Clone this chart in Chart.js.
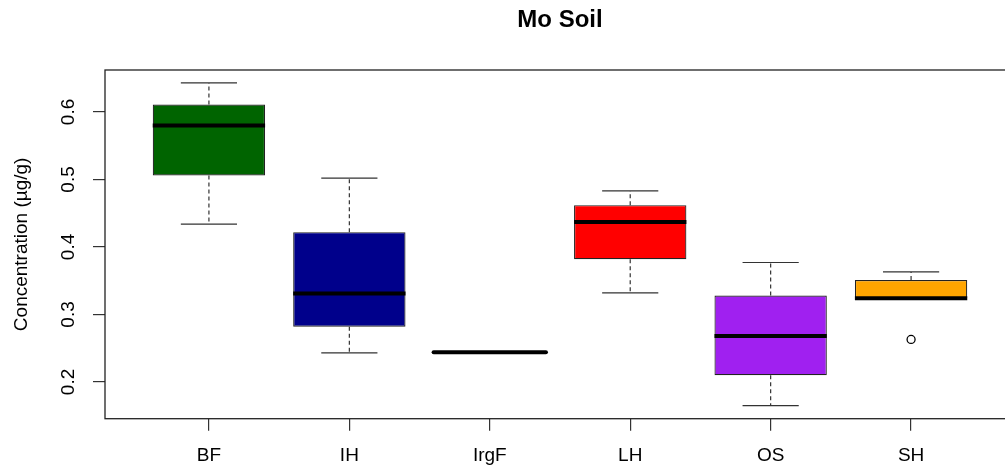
<!DOCTYPE html>
<html>
<head>
<meta charset="utf-8">
<script src="https://cdn.jsdelivr.net/npm/chart.js@4/dist/chart.umd.min.js"></script>
<style>
html,body{margin:0;padding:0;background:#fff;overflow:hidden;}
#wrap{width:1015px;height:470px;}
</style>
</head>
<body>
<div id="wrap"><canvas id="c" width="1015" height="470"></canvas></div>
<script>
const categories = ['BF', 'IH', 'IrgF', 'LH', 'OS', 'SH'];
const whiskerLow  = [0.434, 0.243, 0.244, 0.332, 0.165, 0.324];
const q1          = [0.506, 0.282, 0.244, 0.382, 0.210, 0.324];
const median      = [0.580, 0.331, 0.244, 0.437, 0.268, 0.324];
const q3          = [0.611, 0.422, 0.244, 0.462, 0.328, 0.351];
const whiskerHigh = [0.643, 0.502, 0.244, 0.483, 0.377, 0.363];
const outlierCat  = [6];
const outlierVal  = [0.263];
const yTicks      = [0.2, 0.3, 0.4, 0.5, 0.6];
const colors = ['#006400', '#00008B', '#BEBEBE', '#FF0000', '#A020F0', '#FFA500'];

const FONT = '"Liberation Sans", Arial, sans-serif';

const boxData = categories.map((c, i) => ({ x: i + 1, y: [q1[i], q3[i]] }));
const outData = outlierCat.map((c, i) => ({ x: c, y: outlierVal[i] }));

const boxPlugin = {
  id: 'boxExtras',
  afterDatasetsDraw(chart) {
    const ctx = chart.ctx;
    const ys = chart.scales.y;
    const meta = chart.getDatasetMeta(0);
    ctx.save();
    meta.data.forEach((bar, i) => {
      const x = bar.x;
      const w = bar.width;
      const pLo = ys.getPixelForValue(whiskerLow[i]);
      const pQ1 = ys.getPixelForValue(q1[i]);
      const pQ3 = ys.getPixelForValue(q3[i]);
      const pHi = ys.getPixelForValue(whiskerHigh[i]);
      const pMed = ys.getPixelForValue(median[i]);
      ctx.strokeStyle = '#333';
      ctx.lineWidth = 1.2;
      ctx.setLineDash([4, 3]);
      ctx.beginPath();
      if (pHi < pQ3 - 0.5) { ctx.moveTo(x, pQ3); ctx.lineTo(x, pHi); }
      if (pLo > pQ1 + 0.5) { ctx.moveTo(x, pQ1); ctx.lineTo(x, pLo); }
      ctx.stroke();
      ctx.setLineDash([]);
      ctx.beginPath();
      if (pHi < pQ3 - 0.5) { ctx.moveTo(x - w / 4, pHi); ctx.lineTo(x + w / 4, pHi); }
      if (pLo > pQ1 + 0.5) { ctx.moveTo(x - w / 4, pLo); ctx.lineTo(x + w / 4, pLo); }
      ctx.stroke();
      ctx.strokeStyle = '#000';
      ctx.lineWidth = 4;
      ctx.lineCap = (q1[i] === q3[i]) ? 'round' : 'butt';
      ctx.beginPath();
      ctx.moveTo(x - w / 2, pMed);
      ctx.lineTo(x + w / 2, pMed);
      ctx.stroke();
      ctx.lineCap = 'butt';
    });
    const a = chart.chartArea;
    ctx.strokeStyle = '#222';
    ctx.lineWidth = 1.3;
    ctx.strokeRect(a.left, a.top, a.right - a.left, a.bottom - a.top);
    ctx.fillStyle = '#000';
    ctx.font = '19px ' + FONT;
    ctx.textAlign = 'center';
    ctx.textBaseline = 'middle';
    yTicks.forEach(v => {
      const py = ys.getPixelForValue(v);
      ctx.save();
      ctx.translate(69, py);
      ctx.rotate(-Math.PI / 2);
      ctx.fillText(v.toFixed(1), 0, 0);
      ctx.restore();
    });
    ctx.restore();
  }
};

new Chart(document.getElementById('c'), {
  data: {
    datasets: [
      {
        type: 'bar',
        data: boxData,
        backgroundColor: colors,
        borderColor: '#222',
        borderWidth: 1.2,
        borderSkipped: false,
        categoryPercentage: 0.8,
        barPercentage: 1.0
      },
      {
        type: 'scatter',
        data: outData,
        pointStyle: 'circle',
        pointRadius: 4,
        pointBorderColor: '#000',
        pointBorderWidth: 1.3,
        pointBackgroundColor: 'rgba(0,0,0,0)'
      }
    ]
  },
  plugins: [boxPlugin],
  options: {
    responsive: false,
    devicePixelRatio: 1,
    animation: false,
    layout: { padding: 0, autoPadding: false },
    plugins: {
      legend: { display: false },
      tooltip: { enabled: false },
      title: {
        display: true,
        text: 'Mo Soil',
        fullSize: false,
        color: '#000',
        font: { family: FONT, size: 24, weight: 'bold' },
        padding: { top: 6, bottom: 35.2 }
      }
    },
    scales: {
      x: {
        type: 'linear',
        min: 0.26,
        max: 6.74,
        offset: false,
        afterBuildTicks: s => { s.ticks = categories.map((c, i) => ({ value: i + 1 })); },
        afterFit: s => { s.height = 51.3; s.paddingLeft = 0; s.paddingRight = 0; },
        ticks: {
          callback: v => categories[Math.round(v) - 1],
          color: '#000',
          font: { family: FONT, size: 19 },
          padding: 14,
          maxRotation: 0,
          autoSkip: false
        },
        grid: { offset: false, drawOnChartArea: false, tickLength: 12, color: '#333', lineWidth: 1.2 },
        border: { display: false }
      },
      y: {
        type: 'linear',
        min: 0.1456,
        max: 0.6622,
        afterBuildTicks: s => { s.ticks = yTicks.map(v => ({ value: v })); },
        afterFit: s => { s.width = 105; s.paddingTop = 0; s.paddingBottom = 0; },
        ticks: { display: false },
        grid: { drawOnChartArea: false, tickLength: 12, color: '#333', lineWidth: 1.2 },
        border: { display: false },
        title: {
          display: true,
          text: 'Concentration (µg/g)',
          color: '#000',
          font: { family: FONT, size: 19 },
          padding: { top: 10.6, bottom: 0 }
        }
      }
    }
  }
});
</script>
</body>
</html>
